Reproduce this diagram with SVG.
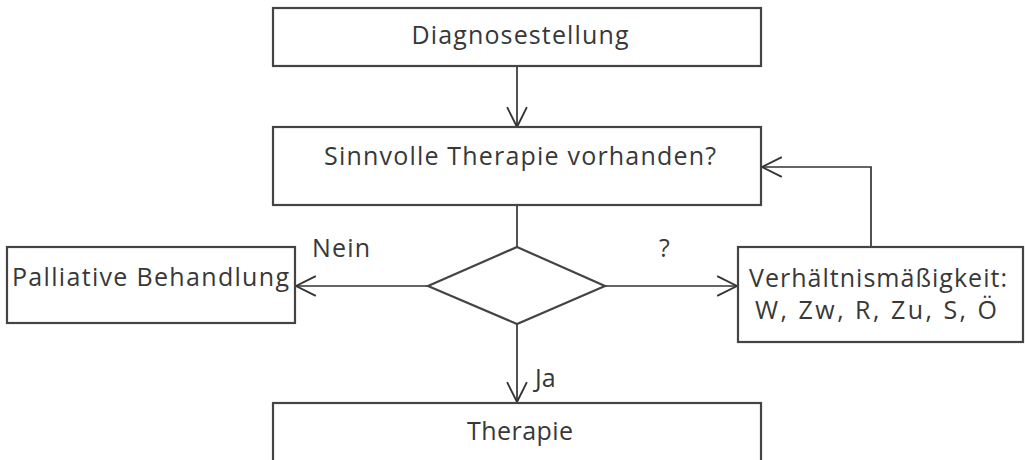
<svg xmlns="http://www.w3.org/2000/svg" width="1025" height="460" viewBox="0 0 1025 460">
<style>
.box{fill:#fff;stroke:#444;stroke-width:2.2}
.lbl{font-family:"Open Sans","DejaVu Sans",sans-serif;font-size:25px;fill:#383838}
.c{text-anchor:middle}
.con{fill:none;stroke:#333;stroke-width:1.7}
</style>
<defs>
<marker id="arr" markerUnits="userSpaceOnUse" markerWidth="22" markerHeight="22" viewBox="0 0 20 20" refX="19" refY="10" orient="auto">
<path d="M1,1 L19,10 L1,19" fill="none" stroke="#333" stroke-width="1.7"/>
</marker>
</defs>
<rect width="1025" height="460" fill="#fff"/>
<g id="connectors">
<path class="con" d="M517,66 V127" marker-end="url(#arr)"/>
<path class="con" d="M517,205 V247"/>
<path class="con" d="M428,286 H296" marker-end="url(#arr)"/>
<path class="con" d="M605,286 H737" marker-end="url(#arr)"/>
<path class="con" d="M517,324 V402" marker-end="url(#arr)"/>
<path class="con" d="M871,247 V167 H762" marker-end="url(#arr)"/>
<text class="lbl" x="312" y="257" textLength="58" lengthAdjust="spacing">Nein</text>
<text class="lbl" x="659" y="257">?</text>
<text class="lbl" x="535" y="387">Ja</text>
</g>
<g id="diagnose">
<rect class="box" x="273" y="8" width="488" height="58"/>
<text class="lbl c" x="520" y="44" textLength="217" lengthAdjust="spacing">Diagnosestellung</text>
</g>
<g id="sinnvoll">
<rect class="box" x="273" y="127" width="488" height="78"/>
<text class="lbl c" x="520" y="165" textLength="392" lengthAdjust="spacing">Sinnvolle Therapie vorhanden?</text>
</g>
<g id="entscheidung">
<polygon class="box" points="517,247 605,286 517,324 428,286"/>
</g>
<g id="palliativ">
<rect class="box" x="7" y="247" width="288" height="76"/>
<text class="lbl" x="12" y="286" textLength="277" lengthAdjust="spacing">Palliative Behandlung</text>
</g>
<g id="verhaeltnis">
<rect class="box" x="738" y="247" width="285" height="95"/>
<text class="lbl" x="749" y="287" textLength="258" lengthAdjust="spacing">Verhältnismäßigkeit:</text>
<text class="lbl" x="755" y="319" textLength="242" lengthAdjust="spacing">W, Zw, R, Zu, S, Ö</text>
</g>
<g id="therapie">
<rect class="box" x="273" y="403" width="488" height="70"/>
<text class="lbl c" x="520" y="440" textLength="106" lengthAdjust="spacing">Therapie</text>
</g>
</svg>
